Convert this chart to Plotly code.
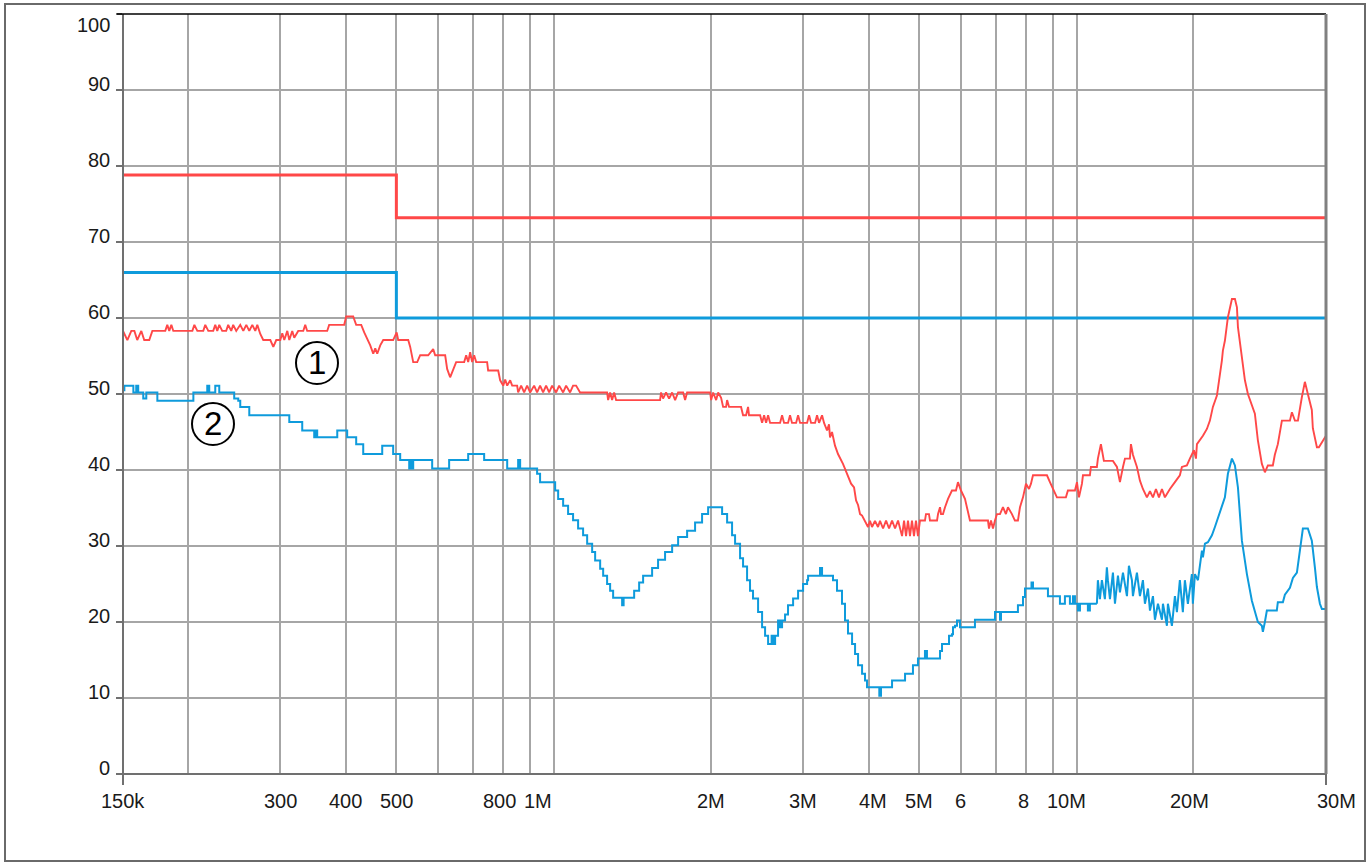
import math
import plotly.graph_objects as go

# ---------------- data (frequency in MHz, level in dBuV) ----------------
red_f = [0.1500,0.1529,0.1556,0.1577,0.1597,0.1626,0.1647,0.1684,0.1707,0.1807,0.1823,0.1839,0.1856,0.1872,
         0.2036,0.2054,0.2081,0.2136,0.2155,0.2184,0.2232,0.2252,0.2272,0.2292,0.2322,0.2363,0.2384,0.2416,0.2437,0.2470,0.2514,0.2548,0.2582,0.2616,0.2651,0.2686,0.2710,
         0.2746,0.2782,0.2870,0.2908,0.2946,0.2999,0.3025,0.3052,0.3093,0.3120,0.3161,0.3189,0.3245,
         0.3318,0.3347,0.3376,0.3687,0.3719,0.3974,0.4009,0.4134,0.4189,0.4283,0.4340,0.4398,0.4457,0.4516,0.4556,0.4596,0.4657,0.4719,0.4930,0.5007,0.5040,
         0.5268,0.5314,0.5385,0.5481,0.5553,0.5752,0.5880,0.5932,0.6199,0.6253,0.6336,0.6421,0.6506,0.6740,0.6800,0.6860,0.6920,0.6982,0.7043,0.7106,0.7457,0.7490,0.7830,0.7898,0.8004,0.8074,0.8146,0.8254,0.8327,
         0.8511,0.8549,0.8662,0.8778,0.8894,0.9012,0.9172,0.9293,0.9416,0.9542,0.9669,0.9800,0.9930,1.0106,1.0241,1.0422,1.0559,1.0746,1.0889,1.1034,1.1230,
         1.2649,1.2706,1.2818,1.2931,1.3046,1.3161,
         1.5972,1.6042,1.6184,1.6400,1.6618,1.6844,1.7068,1.7294,1.7680,1.7834,1.7992,
         1.9912,2.0000,2.0176,2.0446,2.0626,2.0899,2.1084,2.1363,2.1458,2.1644,
         2.2818,2.3020,2.3327,2.3534,2.3633,
         2.4813,2.5033,2.5255,2.5478,2.5704,2.5932,
         2.7095,2.7335,2.7578,2.8062,2.8311,2.8560,2.9076,2.9334,2.9595,3.0519,3.0789,3.1062,3.1610,3.1888,3.2170,3.2598,3.2886,
         3.3320,3.3612,3.3762,3.4060,3.4513,3.4972,3.5748,3.6382,3.7042,3.7536,3.7867,3.8201,3.8540,3.8882,3.9388,3.9912,4.0264,4.0620,4.1160,4.1708,4.2076,
         4.2647,4.3214,4.3785,4.4370,4.4960,4.5558,4.5963,4.6368,4.6778,4.7192,4.7595,4.8015,4.8440,4.8870,4.9300,4.9735,5.0175,
         5.1290,5.1520,5.2205,5.2435,5.4087,5.4329,5.4808,5.5048,5.5534,5.6029,5.6771,5.7768,5.8800,5.9316,6.0108,6.1176,6.1986,6.2532,
         6.7697,6.7998,6.8600,6.9202,6.9818,7.0434,7.1372,7.2317,7.3268,7.3920,7.5233,7.6230,7.7243,
         7.7944,7.8984,8.0035,8.1096,8.1816,8.2536,8.7780,8.8938,9.1719,9.5418,9.6264,9.9300,10.018,10.106,10.241,10.286,
         10.605,10.652,10.937,10.985,11.132,11.279,11.738,11.947,12.106,12.268,12.376,12.649,12.706,12.818,13.046,13.220,13.395,13.633,
         13.817,14.000,14.186,14.375,14.566,14.757,15.086,15.422,15.762,15.902,16.256,16.472,16.769,16.918,16.993,17.447,17.755,17.992,18.230,18.556,
         18.800,18.966,19.050,19.219,19.475,19.650,19.824,20.088,20.266,20.356,20.714,20.991,21.269,21.644,21.932,22.224,22.618,22.920,23.223,23.738,23.947,24.266,24.705,25.592,25.818,26.161,26.510,26.976,27.335,27.695,28.185,28.311,28.823,29.076,29.464,30.0]
red_v = [58.3,57.1,58.3,58.3,57.1,58.3,57.1,57.1,58.3,58.3,59.1,58.3,59.1,58.3,
         58.3,59.1,58.3,58.3,59.1,58.3,58.3,59.1,58.3,59.1,58.3,58.3,59.1,58.3,59.1,58.3,59.1,58.3,59.1,58.3,59.1,58.3,59.1,
         57.9,57.1,57.1,56.2,57.1,57.1,58.0,57.1,58.3,57.1,58.3,57.4,58.3,
         58.3,59.1,58.3,58.3,59.1,59.1,60.2,60.2,59.1,59.1,58.1,57.3,56.4,55.3,56.0,55.3,56.4,57.1,57.1,58.1,57.1,
         57.1,56.2,54.2,54.2,55.1,55.1,55.9,55.1,55.1,53.3,52.2,53.1,54.2,54.2,55.1,54.2,55.5,54.2,55.1,54.2,54.2,53.1,53.1,51.8,51.1,51.9,51.1,51.8,51.1,
         51.1,50.2,51.1,50.2,51.1,50.2,51.1,50.2,51.1,50.2,51.1,50.2,51.1,50.2,51.1,50.2,51.1,50.2,51.1,51.1,50.2,
         50.2,49.2,50.2,49.2,50.2,49.2,
         49.2,50.2,49.4,50.2,49.4,50.2,49.2,50.2,50.2,49.2,50.2,
         50.2,49.2,50.2,49.2,50.2,49.5,48.3,48.3,49.2,48.3,
         48.3,47.2,47.2,48.3,47.2,
         47.2,46.2,47.2,46.2,47.2,46.2,
         46.2,47.2,46.2,46.2,47.2,46.2,46.2,47.2,46.2,46.2,47.2,46.2,46.2,47.2,46.2,47.2,46.2,
         45.2,46.0,44.3,45.0,43.2,42.1,40.8,39.5,38.2,37.7,36.0,35.4,34.2,34.0,33.3,32.5,33.3,32.5,33.3,32.5,33.3,
         32.3,33.35,32.3,33.35,32.3,33.35,32.3,31.3,33.35,31.3,33.35,31.3,33.35,31.3,33.35,31.3,33.35,
         33.35,34.2,34.2,33.35,33.35,34.2,35.1,34.2,34.2,35.1,36.2,37.3,37.3,38.4,37.3,36.2,34.2,33.35,
         33.35,32.3,33.35,32.3,33.35,34.2,34.2,35.1,34.2,35.1,34.2,33.35,33.35,
         35.1,36.4,38.2,37.5,38.2,39.3,39.3,38.4,36.4,36.4,37.3,37.3,38.4,36.4,38.2,39.3,
         39.3,40.4,40.4,41.5,43.4,41.2,41.2,40.4,38.4,40.4,41.5,41.5,43.4,42.0,40.4,38.6,37.5,36.4,
         37.2,36.4,37.5,36.4,37.5,36.4,37.5,38.4,39.3,40.4,40.6,41.5,42.6,41.5,43.4,44.5,45.4,46.5,48.3,49.8,
         52.2,54.4,55.7,57.0,60.1,61.4,62.5,62.5,61.4,58.8,54.8,51.8,50.0,48.5,47.4,43.9,40.8,39.7,40.6,40.6,42.0,43.4,46.5,46.5,47.6,46.5,46.5,49.6,51.6,50.0,47.9,45.5,43.0,43.0,43.7,44.5]

blue_f = [0.1500,0.1509,0.1556,0.1570,0.1590,0.1604,0.1640,0.1662,0.1714,0.1745,
          0.2027,0.2045,0.2155,0.2174,0.2193,0.2232,0.2252,0.2282,0.2292,0.2427,0.2448,0.2492,0.2514,0.2593,0.2616,
          0.3093,0.3120,0.3274,0.3303,0.3467,0.3482,0.3497,0.3528,0.3820,0.3854,0.3991,0.4026,0.4189,0.4321,0.4657,0.4698,0.4908,0.4930,0.5085,0.5268,
          0.5291,0.5338,0.5361,0.5385,0.5803,0.5854,0.6253,0.6308,0.6829,0.6860,0.7295,0.7360,0.8074,0.8146,0.8511,0.8549,0.8624,0.9131,0.9293,0.9416,
          0.9974,1.0062,1.0196,1.0422,1.0652,1.0889,1.1132,1.1380,1.1585,1.1843,1.2000,1.2268,1.2431,1.2649,1.2818,1.2989,1.3395,1.3514,1.3603,1.4123,1.4249,1.4438,1.4566,
          1.4823,1.5287,1.5422,1.5762,1.5832,1.6328,1.6844,1.7294,1.7992,1.8635,1.9219,1.9738,2.0807,2.0991,2.1458,2.1932,2.2224,2.2719,2.3020,2.3430,2.3738,2.4053,
          2.4595,2.5033,2.5365,2.5704,2.6104,2.6276,2.6510,2.6857,2.7095,2.7335,2.7697,2.8062,2.8696,2.9334,2.9987,3.0519,3.0654,3.2028,3.2310,3.2598,3.3762,3.4211,3.4819,
          3.5590,3.6065,3.6544,3.7206,3.7700,3.8201,3.8882,3.9388,3.9736,4.1708,4.1948,4.2264,4.3983,4.4370,4.6571,4.6985,4.8440,4.8650,4.9520,4.9735,5.0845,5.1290,5.1745,
          5.4329,5.4808,5.5292,5.6524,5.7024,5.7768,5.8026,5.8536,5.9058,5.9844,6.3362,6.3921,6.9202,6.9818,7.1057,7.1372,7.1687,
          7.6905,7.7243,7.8984,7.9680,8.1456,8.2000,8.2536,8.7780,8.8162,9.2124,9.2943,9.4164,9.5000,9.6264,9.7119,9.8430,9.9300,10.062,10.151,10.468,10.512,10.605,10.937,
          10.985,11.083,11.181,11.329,11.429,11.480,11.585,11.738,11.843,12.000,12.106,12.268,12.485,12.594,12.762,12.818,13.046,13.220,13.395,13.514,
          13.695,13.817,14.000,14.123,14.312,14.566,14.630,14.888,14.954,15.219,15.422,15.558,15.762,15.971,16.114,16.328,16.618,16.691,16.844,
          17.068,17.218,17.371,17.447,17.602,17.834,18.151,18.392,18.637,18.966,19.219,19.475,19.824,20.088,20.356,20.714,21.176,21.644,21.932,22.224,
          22.618,22.719,22.920,23.122,24.158,24.266,24.813,25.033,25.592,25.932,26.393,26.741,27.095,27.695,28.185,28.568,28.823,29.206,29.464,30.0]
blue_v = [50.5,51.1,51.1,50.2,51.1,50.2,49.4,50.2,50.2,49.1,
          49.1,50.2,50.2,51.1,50.2,50.2,51.1,51.1,50.2,50.2,49.4,49.1,48.3,48.3,47.2,
          47.2,46.3,46.3,45.2,45.2,44.3,45.2,44.3,44.3,45.2,45.2,44.3,43.4,42.1,42.1,43.2,43.2,42.1,41.3,41.3,
          40.2,41.3,40.2,41.3,41.3,40.2,40.2,41.3,41.3,42.1,42.1,41.3,41.3,40.2,40.2,41.3,40.2,40.2,39.5,38.4,
          38.4,37.3,36.2,35.3,34.2,33.4,32.3,31.4,30.3,29.2,28.1,27.0,26.1,25.0,24.1,23.2,23.2,22.2,23.2,23.2,24.1,24.1,25.2,
          26.1,26.1,27.1,27.1,28.2,29.2,30.1,31.2,32.0,33.1,34.2,35.1,35.1,34.2,33.1,31.4,30.3,28.4,27.3,25.5,24.1,23.1,
          21.3,19.3,18.2,17.1,18.2,17.1,18.2,20.2,19.3,20.2,21.0,22.2,23.1,24.1,25.0,25.5,26.1,26.1,27.1,26.1,26.1,25.5,24.1,
          22.4,20.2,18.5,17.1,15.8,14.3,13.2,12.3,11.4,11.4,10.3,11.4,11.4,12.3,12.3,13.2,13.2,14.3,14.3,15.2,15.2,16.2,15.2,
          15.2,16.2,17.1,17.1,18.2,18.4,19.3,19.5,20.2,19.3,19.3,20.3,20.3,21.3,21.3,20.3,21.3,
          21.3,22.2,23.3,24.4,24.4,25.2,24.4,24.4,23.4,23.4,22.4,22.4,23.4,23.4,22.4,23.4,22.4,21.5,22.4,22.4,21.5,22.4,22.4,
          25.5,23.0,25.5,23.0,27.2,25.5,23.0,26.5,22.4,26.1,23.9,26.5,23.4,27.4,25.5,23.4,26.5,23.4,25.5,22.4,
          24.4,21.5,23.4,20.3,22.4,20.3,22.4,19.5,22.4,19.5,23.4,21.3,25.5,21.3,25.5,22.4,26.3,22.4,26.3,
          25.5,27.2,29.4,28.5,30.3,30.5,31.4,32.5,33.6,35.1,36.4,39.5,41.5,40.6,37.7,30.7,26.3,22.8,21.3,20.0,
          19.5,18.7,20.0,21.5,21.5,22.6,22.6,23.6,24.5,25.8,26.5,29.4,32.3,32.3,30.7,27.2,24.6,22.4,21.7,21.7]

# limit lines
red_limit_f = [0.15, 0.5, 0.5, 30.0]
red_limit_v = [78.8, 78.8, 73.2, 73.2]
blue_limit_f = [0.15, 0.5, 0.5, 30.0]
blue_limit_v = [66.0, 66.0, 60.0, 60.0]

# axis ticks / labels
grid_f = [0.2, 0.3, 0.4, 0.5, 0.6, 0.7, 0.8, 0.9, 1, 2, 3, 4, 5, 6, 7, 8, 9, 10, 16.69]
xlabel_f = [0.15, 0.3, 0.4, 0.5, 0.8, 1, 2, 3, 4, 5, 6, 8, 10, 16.69, 30]
xlabel_t = ["150k", "300", "400", "500", "800", "1M", "2M", "3M", "4M", "5M", "6", "8", "10M", "20M", "30M"]
xlabel_shift = [0, 0, 0, 0, -4, -16, 0, 0, 4, 0, 0, -2, -10, -3, 10]
y_ticks = [0, 10, 20, 30, 40, 50, 60, 70, 80, 90, 100]
marker_labels = ["1", "2"]

# drawing style per frequency segment (staircase where the scan shows steps)
red_segments = [(0.15, 30.0, "linear")]
blue_segments = [(0.15, 10.937, "hv"), (10.937, 30.0, "linear")]

assert len(red_f) == len(red_v)
assert len(blue_f) == len(blue_v)

# ---------------- layout geometry ----------------
W, H = 1367, 863
ML, MR, MT, MB = 123, 41, 14, 89
PW = W - ML - MR
PH = H - MT - MB


def pxx(p):
    return (p - ML) / PW


def pxy(p):
    return (H - MB - p) / PH


RED = "#FF4848"
BLUE = "#0E9BDC"
FONT = "Arial, Liberation Sans, sans-serif"

fig = go.Figure()
fig.add_trace(go.Scatter(x=red_limit_f, y=red_limit_v, mode="lines",
                         line=dict(color=RED, width=3), hoverinfo="skip"))
fig.add_trace(go.Scatter(x=blue_limit_f, y=blue_limit_v, mode="lines",
                         line=dict(color=BLUE, width=3), hoverinfo="skip"))


def add_series(fs, vs, segs, color, width):
    for lo, hi, shp in segs:
        xs = [f for f in fs if lo <= f <= hi]
        ys = [v for f, v in zip(fs, vs) if lo <= f <= hi]
        fig.add_trace(go.Scatter(x=xs, y=ys, mode="lines",
                                 line=dict(color=color, width=width, shape=shp)))


add_series(red_f, red_v, red_segments, RED, 1.9)
add_series(blue_f, blue_v, blue_segments, BLUE, 2)

GRID = "#a6a6a6"
AX = "#707070"

fig.update_layout(
    width=W, height=H,
    margin=dict(l=ML, r=MR, t=MT, b=MB),
    paper_bgcolor="white", plot_bgcolor="white",
    showlegend=False,
    xaxis=dict(type="log", range=[math.log10(0.15), math.log10(30)],
               tickvals=grid_f, showticklabels=False, ticks="",
               showgrid=True, gridcolor=GRID, gridwidth=1.5,
               zeroline=False, showline=False),
    yaxis=dict(range=[0, 100], tickvals=y_ticks, showticklabels=False,
               ticks="outside", ticklen=6, tickcolor=AX, tickwidth=1.5,
               showgrid=True, gridcolor=GRID, gridwidth=1.6,
               zeroline=False, showline=False),
)

shapes = []
# outer frame
shapes.append(dict(type="rect", xref="paper", yref="paper",
                   x0=pxx(5), x1=pxx(1365), y0=pxy(861), y1=pxy(4),
                   line=dict(color="#6a6a6a", width=2)))
# axes
shapes.append(dict(type="line", xref="paper", yref="paper", x0=0, x1=0, y0=0, y1=1,
                   line=dict(color=AX, width=2)))
shapes.append(dict(type="line", xref="paper", yref="paper", x0=pxx(117), x1=1, y0=0, y1=0,
                   line=dict(color=AX, width=2)))
shapes.append(dict(type="line", xref="paper", yref="paper", x0=pxx(117), x1=1, y0=1, y1=1,
                   line=dict(color="black", width=1.5)))
shapes.append(dict(type="line", xref="paper", yref="paper", x0=1, x1=1, y0=0, y1=1,
                   line=dict(color="#808080", width=3)))
# end ticks on x axis
for xp in (0, 1):
    shapes.append(dict(type="line", xref="paper", yref="paper", x0=xp, x1=xp,
                       y0=0, y1=pxy(785), line=dict(color=AX, width=2)))
# circled markers
for (cx, cy) in [(317, 363), (213, 424)]:
    shapes.append(dict(type="circle", xref="paper", yref="paper",
                       x0=pxx(cx - 21), x1=pxx(cx + 21), y0=pxy(cy + 21), y1=pxy(cy - 21),
                       line=dict(color="black", width=2)))
fig.update_layout(shapes=shapes)

ann = []
for f, t, s in zip(xlabel_f, xlabel_t, xlabel_shift):
    ann.append(dict(x=math.log10(f), y=0, xref="x", yref="paper", text=t,
                    showarrow=False, xanchor="center", yanchor="middle",
                    xshift=s, yshift=-27, font=dict(family=FONT, size=20, color="#1a1a1a")))
for v in y_ticks:
    ann.append(dict(x=0, y=v, xref="paper", yref="y", text=str(v),
                    showarrow=False, xanchor="right", yanchor="middle",
                    xshift=-11, yshift=(-11 if v == 100 else 6),
                    font=dict(family=FONT, size=20, color="#1a1a1a")))
for (cx, cy), t in zip([(317, 363), (213, 424)], marker_labels):
    ann.append(dict(x=pxx(cx), y=pxy(cy), xref="paper", yref="paper", text=t,
                    showarrow=False, xanchor="center", yanchor="middle", yshift=1,
                    font=dict(family=FONT, size=33, color="black")))
fig.update_layout(annotations=ann)

fig.write_html("out.html")
